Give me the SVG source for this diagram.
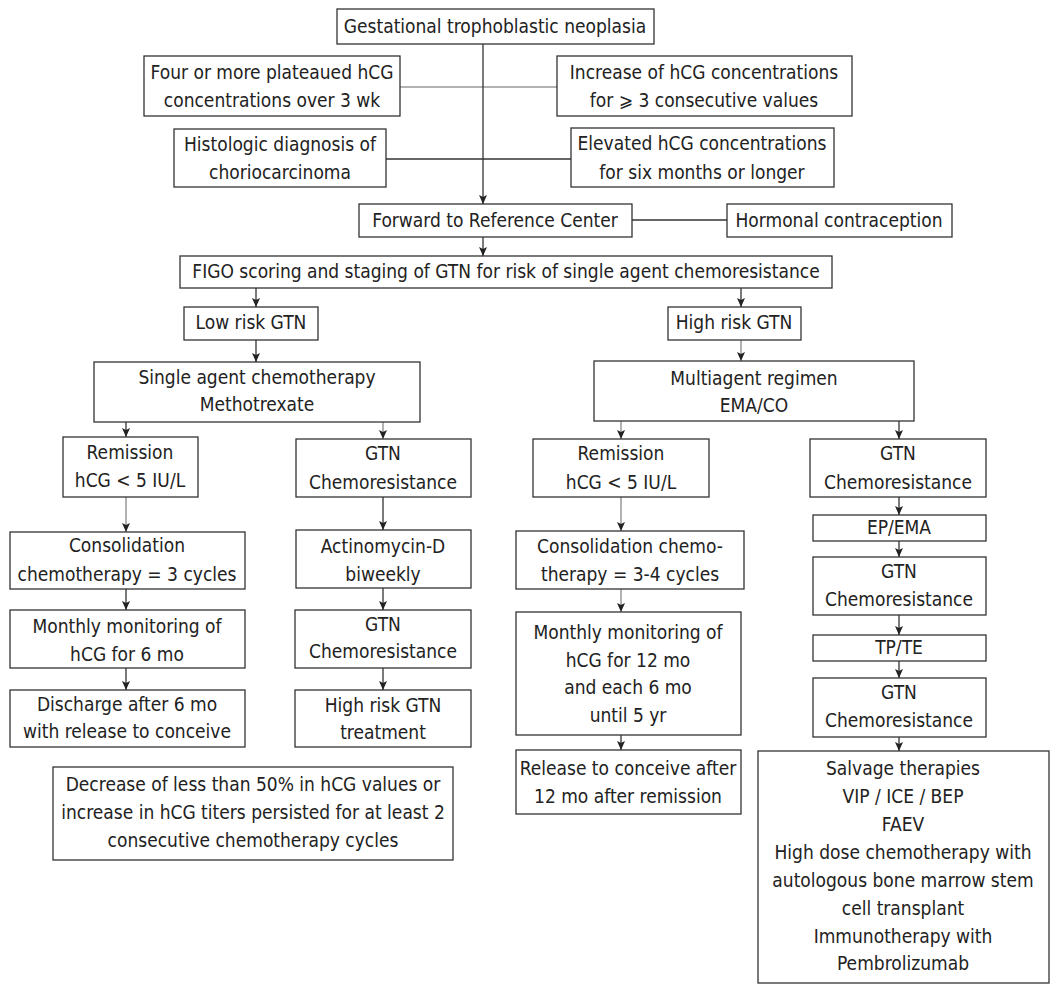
<svg xmlns="http://www.w3.org/2000/svg" width="1061" height="994" viewBox="0 0 1061 994">
<defs>
<style>
.b{fill:#fff;stroke:#333;stroke-width:1.3}
.t{font-family:"DejaVu Sans Condensed","DejaVu Sans",sans-serif;font-size:19px;fill:#222;text-anchor:middle}
.d{stroke:#333;stroke-width:1.3;fill:none}
.g{stroke:#999;stroke-width:1.5;fill:none}
.a{marker-end:url(#ar)}
</style>
<marker id="ar" markerUnits="userSpaceOnUse" markerWidth="10" markerHeight="10" refX="9" refY="4" orient="auto">
<path d="M0,0 L9,4 L0,8 L2,4 z" fill="#222"/>
</marker>
</defs>
<rect width="1061" height="994" fill="#fff"/>
<g id="connectors">
<line class="g" x1="400" y1="87" x2="557" y2="87"/>
<line class="d" x1="386" y1="159" x2="571" y2="159"/>
<line class="d a" x1="483" y1="44" x2="483" y2="204"/>
<line class="d" x1="632" y1="220" x2="727" y2="220"/>
<line class="d a" x1="483" y1="237" x2="483" y2="256"/>
<line class="d a" x1="256" y1="288" x2="256" y2="307"/>
<line class="d a" x1="741" y1="288" x2="741" y2="307"/>
<line class="d a" x1="256" y1="340" x2="256" y2="362"/>
<line class="g a" x1="741" y1="340" x2="741" y2="361"/>
<line class="d a" x1="126" y1="422" x2="126" y2="437"/>
<line class="g a" x1="383" y1="422" x2="383" y2="439"/>
<line class="g a" x1="621" y1="421" x2="621" y2="439"/>
<line class="d a" x1="899" y1="421" x2="899" y2="439"/>
<line class="g a" x1="126" y1="497" x2="126" y2="532"/>
<line class="d a" x1="383" y1="497" x2="383" y2="530"/>
<line class="g a" x1="621" y1="497" x2="621" y2="531"/>
<line class="d a" x1="899" y1="497" x2="899" y2="515"/>
<line class="d a" x1="899" y1="541" x2="899" y2="557"/>
<line class="d a" x1="126" y1="589" x2="126" y2="610"/>
<line class="d a" x1="383" y1="588" x2="383" y2="610"/>
<line class="g a" x1="621" y1="589" x2="621" y2="612"/>
<line class="d a" x1="899" y1="615" x2="899" y2="635"/>
<line class="d a" x1="899" y1="661" x2="899" y2="678"/>
<line class="d a" x1="126" y1="668" x2="126" y2="690"/>
<line class="d a" x1="383" y1="668" x2="383" y2="690"/>
<line class="d a" x1="621" y1="735" x2="621" y2="750"/>
<line class="d a" x1="899" y1="737" x2="899" y2="751"/>
</g>
<g id="n1"><rect class="b" x="337" y="9" width="317" height="35"/><text class="t" x="495" y="33">Gestational trophoblastic neoplasia</text></g>
<g id="n2"><rect class="b" x="144" y="56" width="256" height="60"/><text class="t" x="272" y="79">Four or more plateaued hCG</text><text class="t" x="272" y="107">concentrations over 3 wk</text></g>
<g id="n3"><rect class="b" x="557" y="56" width="295" height="60"/><text class="t" x="704" y="79">Increase of hCG concentrations</text><text class="t" x="704" y="107">for ⩾ 3 consecutive values</text></g>
<g id="n4"><rect class="b" x="174" y="129" width="212" height="58"/><text class="t" x="280" y="151">Histologic diagnosis of</text><text class="t" x="280" y="179">choriocarcinoma</text></g>
<g id="n5"><rect class="b" x="571" y="128" width="263" height="59"/><text class="t" x="702" y="150">Elevated hCG concentrations</text><text class="t" x="702" y="179">for six months or longer</text></g>
<g id="n6"><rect class="b" x="359" y="204" width="273" height="33"/><text class="t" x="495" y="227">Forward to Reference Center</text></g>
<g id="n7"><rect class="b" x="727" y="204" width="225" height="33"/><text class="t" x="839" y="227">Hormonal contraception</text></g>
<g id="n8"><rect class="b" x="180" y="256" width="652" height="32"/><text class="t" x="506" y="278">FIGO scoring and staging of GTN for risk of single agent chemoresistance</text></g>
<g id="n9"><rect class="b" x="184" y="307" width="134" height="33"/><text class="t" x="251" y="329">Low risk GTN</text></g>
<g id="n10"><rect class="b" x="668" y="307" width="133" height="33"/><text class="t" x="734" y="329">High risk GTN</text></g>
<g id="n11"><rect class="b" x="94" y="362" width="326" height="60"/><text class="t" x="257" y="384">Single agent chemotherapy</text><text class="t" x="257" y="411">Methotrexate</text></g>
<g id="n12"><rect class="b" x="594" y="361" width="320" height="60"/><text class="t" x="754" y="385">Multiagent regimen</text><text class="t" x="754" y="412">EMA/CO</text></g>
<g id="n13"><rect class="b" x="63" y="437" width="135" height="60"/><text class="t" x="130" y="459">Remission</text><text class="t" x="130" y="487">hCG &lt; 5 IU/L</text></g>
<g id="n14"><rect class="b" x="296" y="439" width="175" height="58"/><text class="t" x="383" y="460">GTN</text><text class="t" x="383" y="489">Chemoresistance</text></g>
<g id="n15"><rect class="b" x="533" y="439" width="176" height="58"/><text class="t" x="621" y="460">Remission</text><text class="t" x="621" y="489">hCG &lt; 5 IU/L</text></g>
<g id="n16"><rect class="b" x="810" y="439" width="176" height="58"/><text class="t" x="898" y="460">GTN</text><text class="t" x="898" y="489">Chemoresistance</text></g>
<g id="n17"><rect class="b" x="10" y="532" width="235" height="57"/><text class="t" x="127" y="552">Consolidation</text><text class="t" x="127" y="581">chemotherapy = 3 cycles</text></g>
<g id="n18"><rect class="b" x="10" y="610" width="235" height="58"/><text class="t" x="127" y="633">Monthly monitoring of</text><text class="t" x="127" y="661">hCG for 6 mo</text></g>
<g id="n19"><rect class="b" x="10" y="690" width="235" height="57"/><text class="t" x="127" y="711">Discharge after 6 mo</text><text class="t" x="127" y="738">with release to conceive</text></g>
<g id="n20"><rect class="b" x="296" y="530" width="175" height="58"/><text class="t" x="383" y="553">Actinomycin-D</text><text class="t" x="383" y="581">biweekly</text></g>
<g id="n21"><rect class="b" x="295" y="610" width="176" height="58"/><text class="t" x="383" y="631">GTN</text><text class="t" x="383" y="658">Chemoresistance</text></g>
<g id="n22"><rect class="b" x="295" y="690" width="176" height="57"/><text class="t" x="383" y="712">High risk GTN</text><text class="t" x="383" y="739">treatment</text></g>
<g id="n23"><rect class="b" x="516" y="531" width="228" height="58"/><text class="t" x="630" y="553">Consolidation chemo-</text><text class="t" x="630" y="581">therapy = 3-4 cycles</text></g>
<g id="n24"><rect class="b" x="516" y="612" width="225" height="123"/><text class="t" x="628" y="639">Monthly monitoring of</text><text class="t" x="628" y="667">hCG for 12 mo</text><text class="t" x="628" y="694">and each 6 mo</text><text class="t" x="628" y="722">until 5 yr</text></g>
<g id="n25"><rect class="b" x="516" y="750" width="225" height="64"/><text class="t" x="628" y="775">Release to conceive after</text><text class="t" x="628" y="803">12 mo after remission</text></g>
<g id="n26"><rect class="b" x="813" y="515" width="173" height="26"/><text class="t" x="899" y="534">EP/EMA</text></g>
<g id="n27"><rect class="b" x="813" y="557" width="173" height="58"/><text class="t" x="899" y="578">GTN</text><text class="t" x="899" y="606">Chemoresistance</text></g>
<g id="n28"><rect class="b" x="813" y="635" width="173" height="26"/><text class="t" x="899" y="654">TP/TE</text></g>
<g id="n29"><rect class="b" x="813" y="678" width="173" height="59"/><text class="t" x="899" y="699">GTN</text><text class="t" x="899" y="727">Chemoresistance</text></g>
<g id="n30"><rect class="b" x="758" y="751" width="291" height="232"/><text class="t" x="903" y="775">Salvage therapies</text><text class="t" x="903" y="803">VIP / ICE / BEP</text><text class="t" x="903" y="831">FAEV</text><text class="t" x="903" y="859">High dose chemotherapy with</text><text class="t" x="903" y="887">autologous bone marrow stem</text><text class="t" x="903" y="915">cell transplant</text><text class="t" x="903" y="943">Immunotherapy with</text><text class="t" x="903" y="970">Pembrolizumab</text></g>
<g id="n31"><rect class="b" x="53" y="767" width="400" height="93"/><text class="t" x="253" y="791">Decrease of less than 50% in hCG values or</text><text class="t" x="253" y="819">increase in hCG titers persisted for at least 2</text><text class="t" x="253" y="847">consecutive chemotherapy cycles</text></g>
</svg>
